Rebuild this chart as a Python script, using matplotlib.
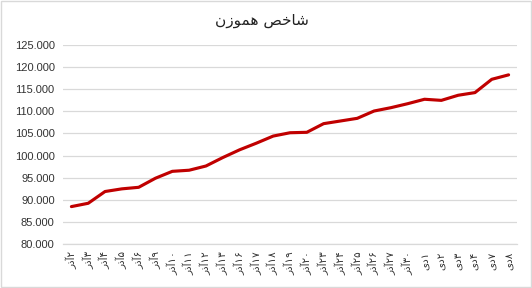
import re
import matplotlib
matplotlib.use("Agg")
import matplotlib.pyplot as plt
from matplotlib.patches import Rectangle

# Data
title = "شاخص هموزن"
days = [2, 3, 4, 5, 6, 9, 10, 11, 12, 13, 16, 17, 18, 19, 20, 23, 24, 25, 26, 27, 30,
        1, 2, 3, 4, 7, 8]
months = ["آذر"] * 21 + ["دی"] * 6
values = [88.5, 89.25, 91.9, 92.5, 92.85, 94.9, 96.45, 96.7, 97.65, 99.55, 101.3,
          102.8, 104.4, 105.15, 105.25, 107.2, 107.8, 108.4, 110.05, 110.8, 111.7,
          112.7, 112.45, 113.6, 114.2, 117.2, 118.2]

# small Arabic-script shaper (matplotlib has no bidi / joining support)
FORMS = {  # isolated, final, initial, medial
    "ش": (0xFEB5, 0xFEB6, 0xFEB7, 0xFEB8), "ا": (0xFE8D, 0xFE8E),
    "خ": (0xFEA5, 0xFEA6, 0xFEA7, 0xFEA8), "ص": (0xFEB9, 0xFEBA, 0xFEBB, 0xFEBC),
    "ه": (0xFEE9, 0xFEEA, 0xFEEB, 0xFEEC), "م": (0xFEE1, 0xFEE2, 0xFEE3, 0xFEE4),
    "و": (0xFEED, 0xFEEE), "ز": (0xFEAF, 0xFEB0),
    "ن": (0xFEE5, 0xFEE6, 0xFEE7, 0xFEE8), "آ": (0xFE81, 0xFE82),
    "ذ": (0xFEAB, 0xFEAC), "ر": (0xFEAD, 0xFEAE), "د": (0xFEA9, 0xFEAA),
    "ی": (0xFBFC, 0xFBFD, 0xFBFE, 0xFBFF),
}
PERSIAN_DIGITS = "۰۱۲۳۴۵۶۷۸۹"


def shape(text):
    out = []
    for i, ch in enumerate(text):
        if ch not in FORMS:
            out.append(ch)
            continue
        prev = text[i - 1] if i > 0 else ""
        nxt = text[i + 1] if i + 1 < len(text) else ""
        join_prev = prev in FORMS and len(FORMS[prev]) == 4
        join_next = len(FORMS[ch]) == 4 and nxt in FORMS
        f = FORMS[ch]
        if join_prev and join_next:
            out.append(chr(f[3]))
        elif join_prev:
            out.append(chr(f[1]))
        elif join_next:
            out.append(chr(f[2]))
        else:
            out.append(chr(f[0]))
    s = "".join(out)
    # right-to-left display order, digit runs stay left-to-right
    tokens = re.findall(r"[0-9۰-۹]+|[^0-9۰-۹]+", s)
    return "".join(t if t[0] in "0123456789" + PERSIAN_DIGITS else t[::-1]
                   for t in reversed(tokens))


def fa_num(n):
    return "".join(PERSIAN_DIGITS[int(d)] for d in str(n))


labels = [shape(fa_num(d) + m) for d, m in zip(days, months)]

plt.rcParams["font.family"] = ["Liberation Sans", "DejaVu Sans"]

fig = plt.figure(figsize=(5.32, 2.88), dpi=100)
ax = fig.add_axes([63 / 532, 1 - 244.3 / 288, 454 / 532, 199.6 / 288])

x = list(range(len(values)))
ax.plot(x, values, color="#C00000", linewidth=2.25, solid_capstyle="round",
        solid_joinstyle="round", zorder=3)

ax.set_xlim(-0.5, len(values) - 0.5)
ax.set_ylim(80, 125)
ax.set_yticks(range(80, 126, 5))
ax.set_yticklabels([f"{v:.3f}" for v in range(80, 126, 5)], fontsize=8, color="#333333")
ax.set_xticks(x)
ax.set_xticklabels(labels, rotation=90, fontsize=7.5, color="#333333",
                   family=["DejaVu Sans"])
ax.tick_params(axis="both", length=0, pad=6)
ax.tick_params(axis="x", pad=5)
ax.grid(axis="y", color="#d9d9d9", linewidth=0.9)
ax.set_axisbelow(True)
for side in ["top", "right", "left"]:
    ax.spines[side].set_visible(False)
ax.spines["bottom"].set_color("#d9d9d9")
ax.spines["bottom"].set_linewidth(0.9)

fig.text(262 / 532, 1 - 20 / 288, shape(title), ha="center", va="center",
         fontsize=11, color="#222222", family=["DejaVu Sans"])

fig.patches.append(Rectangle((0.001, 0.002), 0.997, 0.995, transform=fig.transFigure,
                             fill=False, edgecolor="#d9d9d9", linewidth=1))

fig.savefig("out.png", dpi=100, facecolor="white")
